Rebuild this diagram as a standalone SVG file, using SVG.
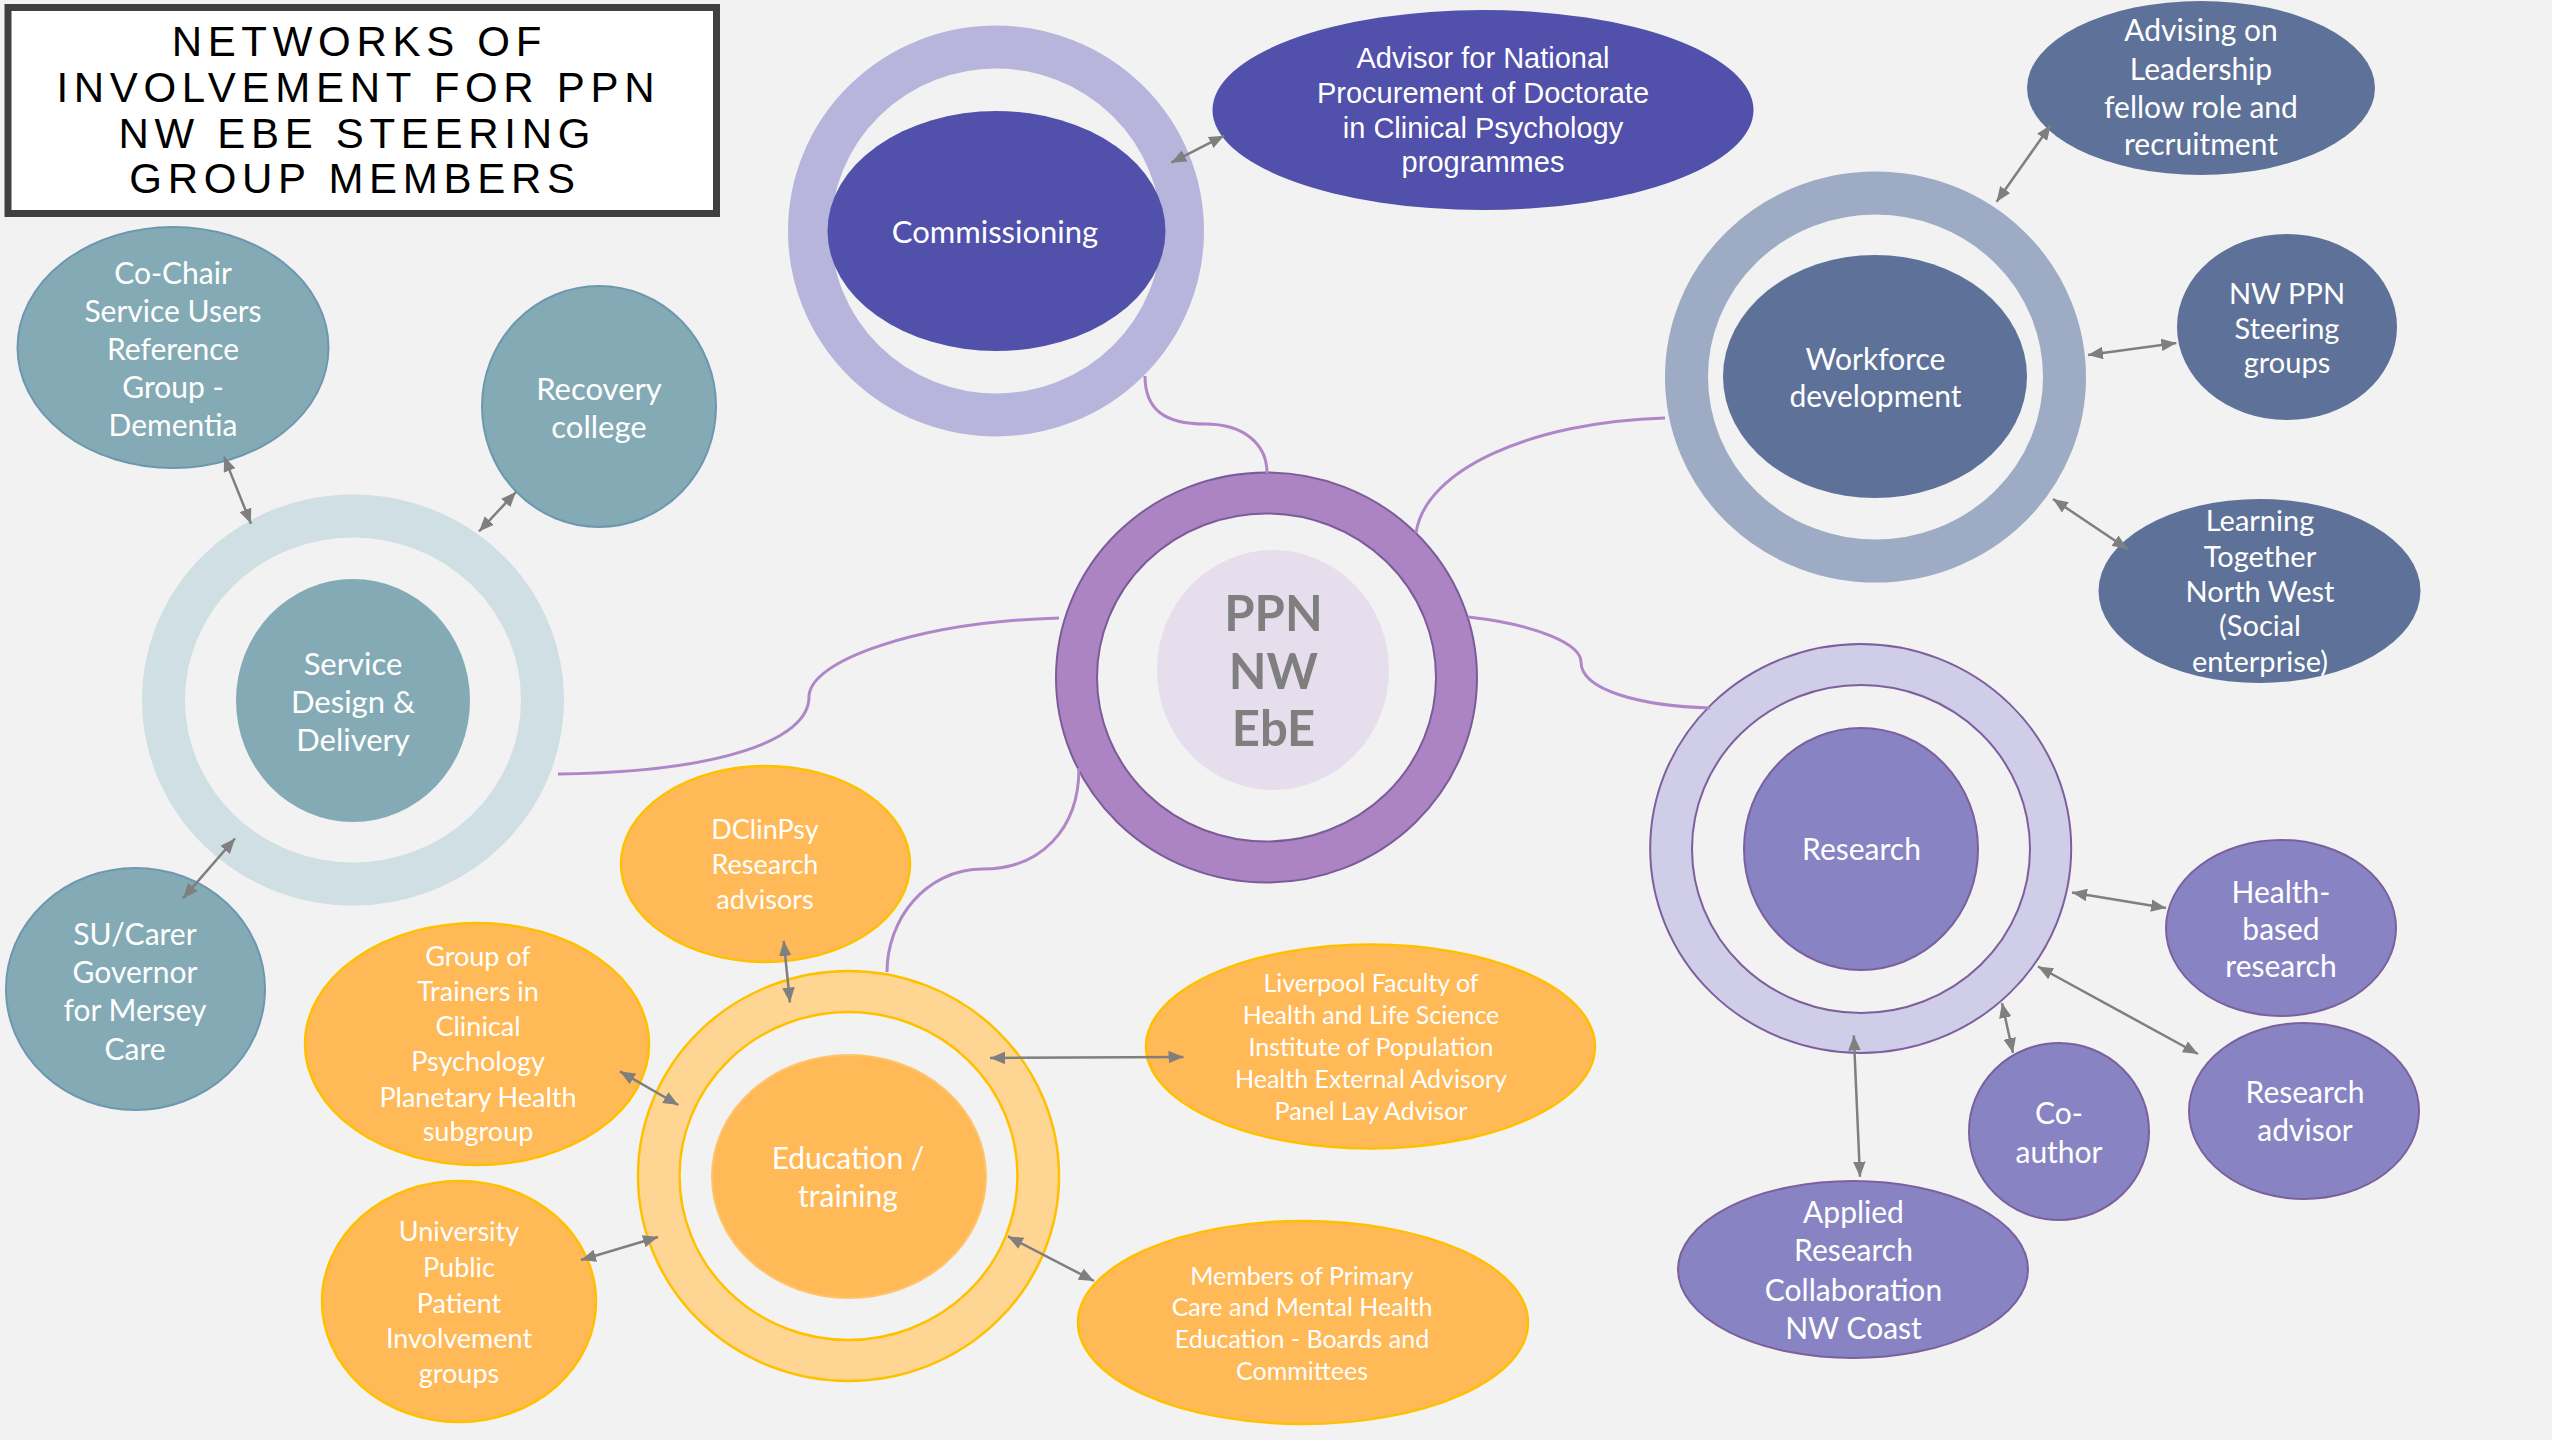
<svg xmlns="http://www.w3.org/2000/svg" width="2552" height="1440" viewBox="0 0 2552 1440">
<defs>
<style>
.t{font-family:Lato,"Noto Sans",sans-serif;fill:#FFFFFF;text-anchor:middle}
.f25{font-size:25px}.f27{font-size:27px}.f29{font-size:29px}.f30{font-size:30px}.f31{font-size:31px}
.teal{fill:#84ABB5;stroke:#6D97B0;stroke-width:2}
.indigo{fill:#5150AB}
.slate{fill:#5E7299}
.lav{fill:#8884C4;stroke:#7E5F9E;stroke-width:2}
.orange{fill:#FFB957;stroke:#FFC000;stroke-width:2.5}
.curve{fill:none;stroke:#AF87C8;stroke-width:3}
.arr{fill:none;stroke:#7F7F7F;stroke-width:2.5;marker-start:url(#ah);marker-end:url(#ah)}
</style>
<marker id="ah" viewBox="0 0 12 10" refX="12" refY="5" markerWidth="6" markerHeight="5" orient="auto-start-reverse" markerUnits="strokeWidth">
<path d="M0,0 L12,5 L0,10 z" fill="#7F7F7F"/>
</marker>
</defs>
<rect x="0" y="0" width="2552" height="1440" fill="#F2F2F2"/>

<g id="title">
<rect x="8" y="7.5" width="708.5" height="206" fill="#FFFFFF" stroke="#404040" stroke-width="7"/>
<text font-family="'Liberation Sans',Arial,sans-serif" font-size="42" letter-spacing="5.7" text-anchor="middle" fill="#000000">
<tspan x="368" y="56">NETWORKS OF</tspan>
<tspan x="367" y="102">INVOLVEMENT FOR PPN</tspan>
<tspan x="366" y="148">NW EBE STEERING</tspan>
<tspan x="355" y="193">GROUP MEMBERS</tspan>
</text>
</g>

<g id="service-design">
<ellipse cx="353" cy="700" rx="189.5" ry="184" fill="none" stroke="#D0DFE3" stroke-width="43"/>
<ellipse cx="353" cy="700.5" rx="117" ry="121.5" fill="#84ABB5"/>
<text class="t f31"><tspan x="353" y="675">Service</tspan><tspan x="353" y="713">Design &amp;</tspan><tspan x="353" y="751">Delivery</tspan></text>
</g>
<g id="co-chair">
<ellipse class="teal" cx="173" cy="347.5" rx="155.5" ry="120.5"/>
<text class="t f30"><tspan x="173" y="284">Co-Chair</tspan><tspan x="173" y="322">Service Users</tspan><tspan x="173" y="360">Reference</tspan><tspan x="173" y="398">Group -</tspan><tspan x="173" y="436">Dementia</tspan></text>
</g>
<g id="recovery-college">
<ellipse class="teal" cx="599" cy="406.5" rx="117" ry="120.5"/>
<text class="t f31"><tspan x="599" y="400">Recovery</tspan><tspan x="599" y="438">college</tspan></text>
</g>
<g id="su-carer">
<ellipse class="teal" cx="135.5" cy="989" rx="129.5" ry="121"/>
<text class="t f30"><tspan x="135" y="945">SU/Carer</tspan><tspan x="135" y="983">Governor</tspan><tspan x="135" y="1021">for Mersey</tspan><tspan x="135" y="1060">Care</tspan></text>
</g>

<g id="commissioning">
<ellipse cx="996" cy="231" rx="186.5" ry="184" fill="none" stroke="#B7B5DC" stroke-width="43"/>
<ellipse class="indigo" cx="996.5" cy="231" rx="169" ry="120"/>
<text class="t f31"><tspan x="995" y="243">Commissioning</tspan></text>
</g>
<g id="advisor-national">
<ellipse class="indigo" cx="1483" cy="110" rx="270.5" ry="100"/>
<text font-family="'Liberation Sans',Arial,sans-serif" font-size="29" fill="#FFFFFF" text-anchor="middle"><tspan x="1483" y="68">Advisor for National</tspan><tspan x="1483" y="103">Procurement of Doctorate</tspan><tspan x="1483" y="137.5">in Clinical Psychology</tspan><tspan x="1483" y="172">programmes</tspan></text>
</g>

<g id="workforce">
<ellipse cx="1875.5" cy="377" rx="189" ry="184" fill="none" stroke="#9EABC4" stroke-width="43"/>
<ellipse class="slate" cx="1875" cy="376.5" rx="152" ry="121.5"/>
<text class="t f30"><tspan x="1875.5" y="370">Workforce</tspan><tspan x="1875.5" y="407">development</tspan></text>
</g>
<g id="advising-leadership">
<ellipse class="slate" cx="2201" cy="88" rx="174" ry="87"/>
<text class="t f30"><tspan x="2201" y="41">Advising on</tspan><tspan x="2201" y="79.5">Leadership</tspan><tspan x="2201" y="118">fellow role and</tspan><tspan x="2201" y="155">recruitment</tspan></text>
</g>
<g id="nw-ppn">
<ellipse class="slate" cx="2287" cy="327" rx="110" ry="93"/>
<text class="t f29"><tspan x="2287" y="303.5">NW PPN</tspan><tspan x="2287" y="339">Steering</tspan><tspan x="2287" y="373">groups</tspan></text>
</g>
<g id="learning-together">
<ellipse class="slate" cx="2259.5" cy="591" rx="161" ry="92"/>
<text class="t f29"><tspan x="2260" y="531">Learning</tspan><tspan x="2260" y="567">Together</tspan><tspan x="2260" y="602">North West</tspan><tspan x="2260" y="636">(Social</tspan><tspan x="2260" y="672">enterprise)</tspan></text>
</g>

<g id="ppn-nw-ebe">
<ellipse cx="1266.5" cy="677.5" rx="210.5" ry="205" fill="#AC84C4" stroke="#7B5C99" stroke-width="2"/>
<ellipse cx="1266.5" cy="677.5" rx="169.5" ry="164" fill="#F2F2F2" stroke="#7B5C99" stroke-width="2"/>
<ellipse cx="1273" cy="670" rx="116" ry="120" fill="#E6DEEC"/>
<text font-family="Lato,'Noto Sans',sans-serif" font-weight="bold" font-size="49" fill="#7F7F7F" text-anchor="middle"><tspan x="1273.5" y="631">PPN</tspan><tspan x="1273.5" y="689">NW</tspan><tspan x="1273.5" y="746">EbE</tspan></text>
</g>

<g id="research">
<ellipse cx="1860.7" cy="848.5" rx="210.5" ry="204.5" fill="#CFCDE8" stroke="#7E5F9E" stroke-width="2"/>
<ellipse cx="1861" cy="849" rx="169" ry="164" fill="#F2F2F2" stroke="#7E5F9E" stroke-width="2"/>
<ellipse class="lav" cx="1861" cy="849" rx="117" ry="121"/>
<text class="t f30"><tspan x="1861.5" y="860">Research</tspan></text>
</g>
<g id="health-based-research">
<ellipse class="lav" cx="2281" cy="928" rx="115" ry="88"/>
<text class="t f30"><tspan x="2281" y="903">Health-</tspan><tspan x="2281" y="940">based</tspan><tspan x="2281" y="977">research</tspan></text>
</g>
<g id="research-advisor">
<ellipse class="lav" cx="2304" cy="1111" rx="115" ry="88"/>
<text class="t f30"><tspan x="2305" y="1103">Research</tspan><tspan x="2305" y="1141">advisor</tspan></text>
</g>
<g id="co-author">
<ellipse class="lav" cx="2059" cy="1131.5" rx="90" ry="88.5"/>
<text class="t f30"><tspan x="2059" y="1124">Co-</tspan><tspan x="2059" y="1163">author</tspan></text>
</g>
<g id="applied-research">
<ellipse class="lav" cx="1853" cy="1269.5" rx="175" ry="88.5"/>
<text class="t f30"><tspan x="1853.5" y="1223">Applied</tspan><tspan x="1853.5" y="1261">Research</tspan><tspan x="1853.5" y="1301">Collaboration</tspan><tspan x="1853.5" y="1339">NW Coast</tspan></text>
</g>

<g id="education">
<ellipse cx="848.5" cy="1176" rx="210.5" ry="205" fill="#FFD594" stroke="#FFC000" stroke-width="2.5"/>
<ellipse cx="848.5" cy="1176" rx="169" ry="164" fill="#F2F2F2" stroke="#FFC000" stroke-width="2.5"/>
<ellipse cx="849" cy="1176.5" rx="137" ry="121.5" fill="#FFB957" stroke="#FFC46A" stroke-width="2"/>
<text class="t f30"><tspan x="848" y="1169">Education /</tspan><tspan x="848" y="1207">training</tspan></text>
</g>
<g id="dclinpsy">
<ellipse class="orange" cx="765.5" cy="864" rx="144.5" ry="98"/>
<text class="t f27"><tspan x="765" y="839">DClinPsy</tspan><tspan x="765" y="874">Research</tspan><tspan x="765" y="909">advisors</tspan></text>
</g>
<g id="liverpool-faculty">
<ellipse class="orange" cx="1370.5" cy="1046.5" rx="224.5" ry="102"/>
<text class="t f25"><tspan x="1371" y="992">Liverpool Faculty of</tspan><tspan x="1371" y="1024">Health and Life Science</tspan><tspan x="1371" y="1056">Institute of Population</tspan><tspan x="1371" y="1088">Health External Advisory</tspan><tspan x="1371" y="1120">Panel Lay Advisor</tspan></text>
</g>
<g id="members-primary-care">
<ellipse class="orange" cx="1303" cy="1322.5" rx="225" ry="101.5"/>
<text class="t f25"><tspan x="1302" y="1285">Members of Primary</tspan><tspan x="1302" y="1316">Care and Mental Health</tspan><tspan x="1302" y="1348">Education - Boards and</tspan><tspan x="1302" y="1380">Committees</tspan></text>
</g>
<g id="group-of-trainers">
<ellipse class="orange" cx="477" cy="1044" rx="172" ry="121"/>
<text class="t f27"><tspan x="478" y="966">Group of</tspan><tspan x="478" y="1001">Trainers in</tspan><tspan x="478" y="1036">Clinical</tspan><tspan x="478" y="1071">Psychology</tspan><tspan x="478" y="1107">Planetary Health</tspan><tspan x="478" y="1141">subgroup</tspan></text>
</g>
<g id="university-ppi">
<ellipse class="orange" cx="459" cy="1301.5" rx="137" ry="120.5"/>
<text class="t f27"><tspan x="459" y="1241">University</tspan><tspan x="459" y="1277">Public</tspan><tspan x="459" y="1313">Patient</tspan><tspan x="459" y="1348">Involvement</tspan><tspan x="459" y="1383">groups</tspan></text>
</g>

<g id="connectors">
<path class="curve" d="M558,774 C720,772 809,740 809,697 C809,660 920,622 1059,618"/>
<path class="curve" d="M1145,376 C1145,410 1165,424 1205,424 C1245,424 1267,445 1267,473"/>
<path class="curve" d="M1416,533 C1425,470 1530,422 1665,418"/>
<path class="curve" d="M1468,617 C1540,625 1581,645 1581,662 C1581,690 1640,706 1710,708"/>
<path class="curve" d="M1079,768 C1079,830 1040,869 983,869 C925,869 887,920 887,972"/>
<line class="arr" x1="224" y1="456.6" x2="251" y2="523.7"/>
<line class="arr" x1="516" y1="492" x2="479" y2="531.5"/>
<line class="arr" x1="235" y1="838.5" x2="183" y2="898.4"/>
<line class="arr" x1="1224" y1="135.7" x2="1171.3" y2="162.7"/>
<line class="arr" x1="2050.7" y1="125" x2="1996.6" y2="201.8"/>
<line class="arr" x1="2176.4" y1="342.9" x2="2088" y2="355"/>
<line class="arr" x1="2127.5" y1="549" x2="2053" y2="499"/>
<line class="arr" x1="2166" y1="908" x2="2072" y2="892.6"/>
<line class="arr" x1="2198" y1="1054" x2="2038" y2="966.5"/>
<line class="arr" x1="2013" y1="1053" x2="2002" y2="1003"/>
<line class="arr" x1="1860" y1="1176.7" x2="1853.8" y2="1035.4"/>
<line class="arr" x1="783.7" y1="941" x2="790" y2="1002.5"/>
<line class="arr" x1="1183.5" y1="1057" x2="990" y2="1058"/>
<line class="arr" x1="1094" y1="1281" x2="1008" y2="1236.4"/>
<line class="arr" x1="620" y1="1071.4" x2="678.3" y2="1105"/>
<line class="arr" x1="581" y1="1260" x2="658" y2="1237"/>
</g>
</svg>
